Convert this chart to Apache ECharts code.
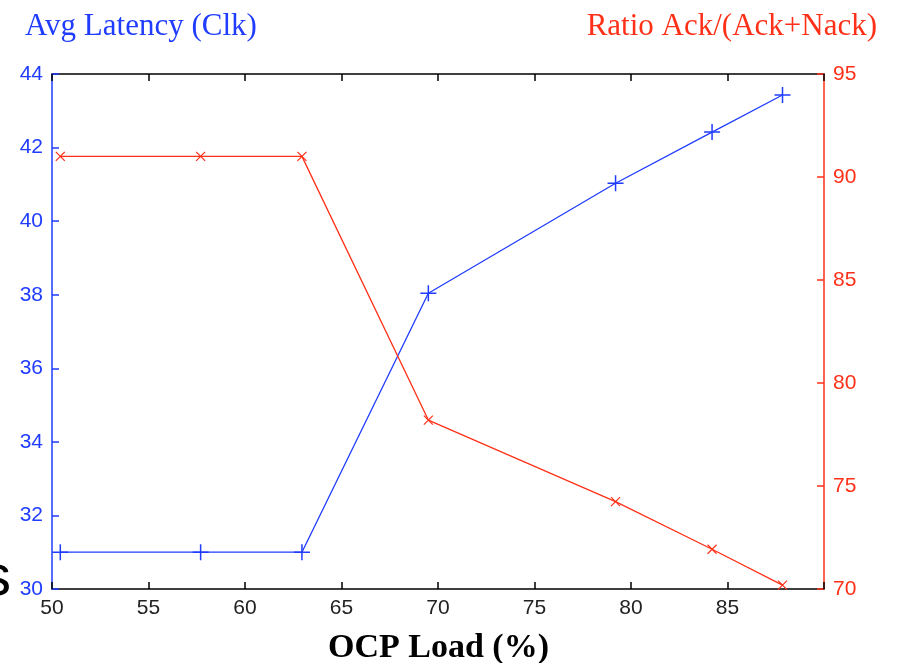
<!DOCTYPE html>
<html><head><meta charset="utf-8">
<script src="https://cdn.jsdelivr.net/npm/echarts@6/dist/echarts.min.js"></script>
<style>html,body{margin:0;padding:0;background:#fff}#c{width:897px;height:663px}</style>
</head><body><div id="c"></div>
<script>
const loadX = [50.43, 57.7, 62.95, 69.5, 79.2, 84.2, 87.85];
const latency = [31.0, 31.0, 31.0, 38.04, 41.03, 42.42, 43.43];
const ratio = [91.0, 91.0, 91.0, 78.2, 74.24, 71.93, 70.19];
const xTicks = [50, 55, 60, 65, 70, 75, 80, 85, 90];

const BLUE = '#1f3cff', RED = '#ff3018';
const chart = echarts.init(document.getElementById('c'));
const plus = 'path://M0,5L10,5M5,0L5,10';
const cross = 'path://M0,0L10,10M0,10L10,0';
chart.setOption({
  animation: false,
  grid: {left: 52, right: 73, top: 74, bottom: 74, containLabel: false},
  title: [
    {text: 'Avg Latency (Clk)', left: 20, top: 6, textStyle: {fontFamily: 'Liberation Serif', fontSize: 31, fontWeight: 'normal', color: BLUE}},
    {text: 'Ratio Ack/(Ack+Nack)', right: 15, top: 6, textStyle: {fontFamily: 'Liberation Serif', fontSize: 31, fontWeight: 'normal', color: RED}},
    {text: 'OCP Load (%)', left: 323, top: 626, textStyle: {fontFamily: 'Liberation Serif', fontSize: 34, fontWeight: 'bold', color: '#000'}}
  ],
  graphic: [{type: 'text', left: -18, top: 550, style: {text: 's', font: '58px "Liberation Sans"', fill: '#000'}}],
  xAxis: [
    {type: 'value', min: xTicks[0], max: xTicks[xTicks.length - 1], interval: 5, position: 'bottom',
     axisLine: {lineStyle: {color: '#000', width: 1.5}},
     axisTick: {inside: true, length: 7, lineStyle: {color: '#000', width: 1.5}},
     axisLabel: {color: '#222', fontFamily: 'Liberation Sans', fontSize: 21, margin: 9,
       formatter: v => (v === 90 ? '' : String(v))},
     splitLine: {show: false}},
    {type: 'value', min: xTicks[0], max: xTicks[xTicks.length - 1], interval: 5, position: 'top',
     axisLine: {lineStyle: {color: '#000', width: 1.5}},
     axisTick: {inside: true, length: 7, lineStyle: {color: '#000', width: 1.5}},
     axisLabel: {show: false}, splitLine: {show: false}}
  ],
  yAxis: [
    {type: 'value', min: 30, max: 44, interval: 2, position: 'left',
     axisLine: {show: true, lineStyle: {color: BLUE, width: 1.5}},
     axisTick: {show: true, inside: true, length: 7, lineStyle: {color: BLUE, width: 1.5}},
     axisLabel: {color: BLUE, fontFamily: 'Liberation Sans', fontSize: 21, margin: 9},
     splitLine: {show: false}},
    {type: 'value', min: 70, max: 95, interval: 5, position: 'right',
     axisLine: {show: true, lineStyle: {color: RED, width: 1.5}},
     axisTick: {show: true, inside: true, length: 7, lineStyle: {color: RED, width: 1.5}},
     axisLabel: {color: RED, fontFamily: 'Liberation Sans', fontSize: 21, margin: 9},
     splitLine: {show: false}}
  ],
  series: [
    {type: 'line', yAxisIndex: 0, data: loadX.map((x, i) => [x, latency[i]]),
     symbol: plus, symbolSize: 16, lineStyle: {color: BLUE, width: 1.3},
     itemStyle: {color: BLUE, borderColor: BLUE, borderWidth: 1.5}},
    {type: 'line', yAxisIndex: 1, data: loadX.map((x, i) => [x, ratio[i]]),
     symbol: cross, symbolSize: 9, lineStyle: {color: RED, width: 1.3},
     itemStyle: {color: RED, borderColor: RED, borderWidth: 1.2}}
  ]
});
</script></body></html>
